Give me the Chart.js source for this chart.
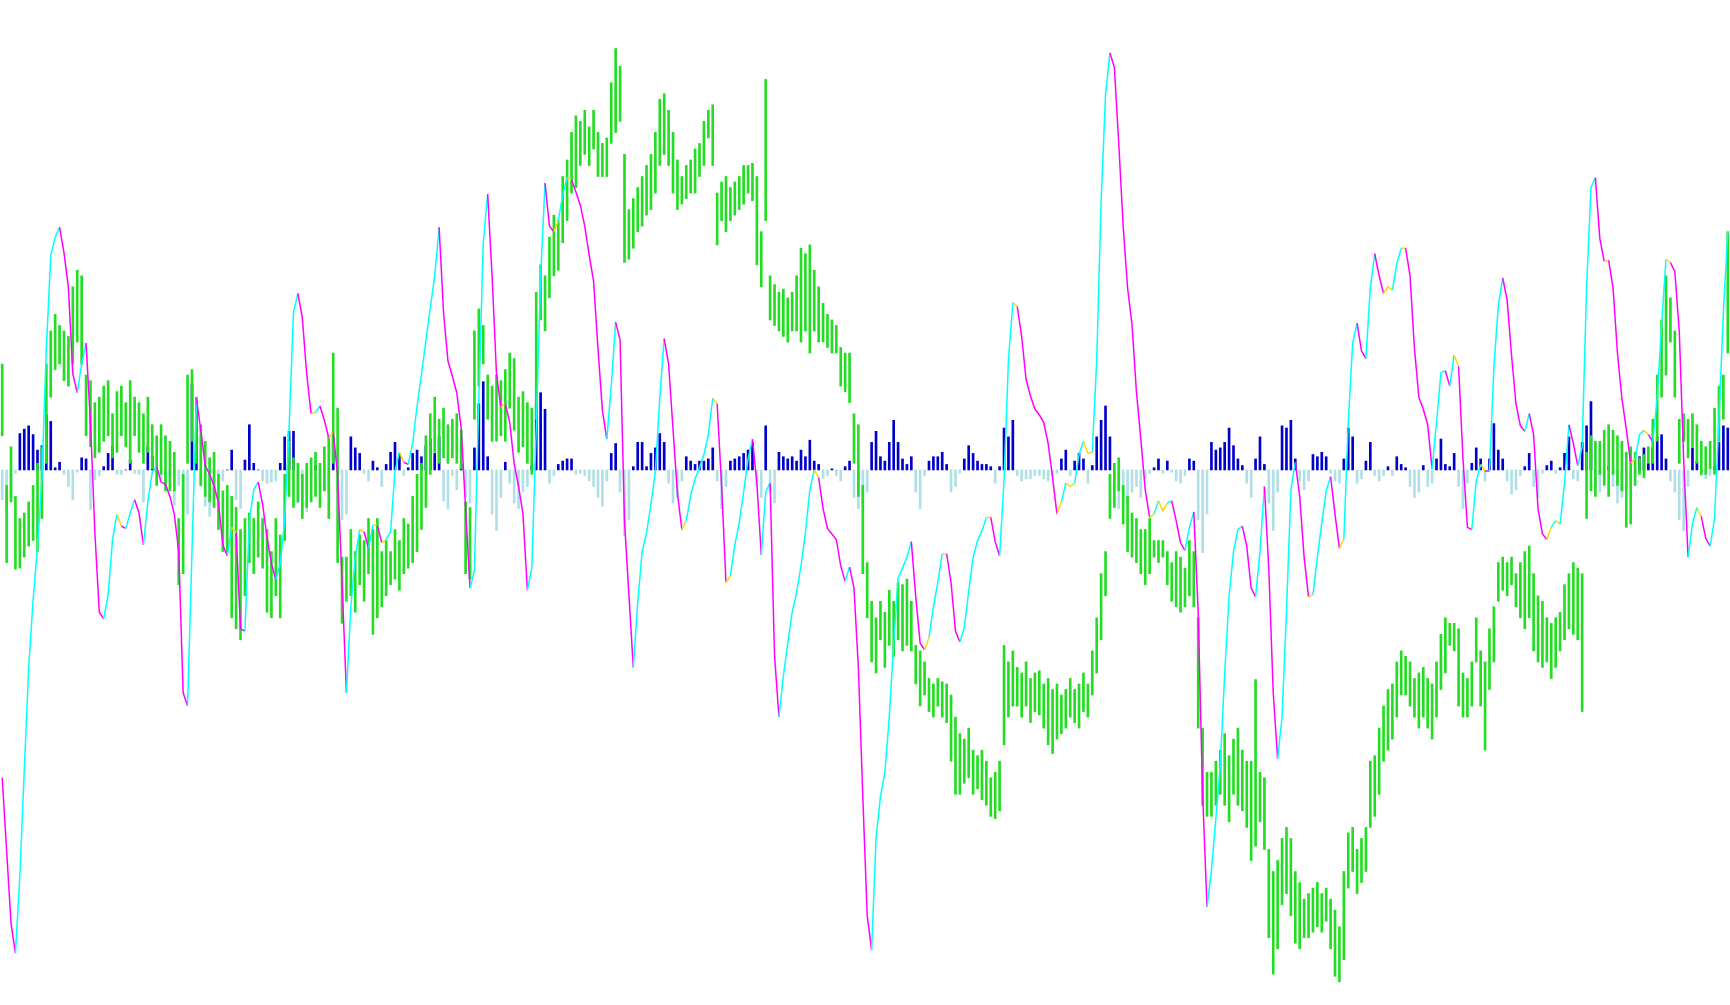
<!DOCTYPE html>
<html>
<head>
<meta charset="utf-8">
<script src="https://cdn.jsdelivr.net/npm/chart.js@4.4.1/dist/chart.umd.min.js"></script>
<style>
html, body { margin: 0; padding: 0; background: #fff; }
#wrap { width: 1730px; height: 1005px; }
</style>
</head>
<body>
<div id="wrap"><canvas id="myChart" width="1730" height="1005"></canvas></div>
<script>
// oscillator, one value per bar
const osc = [
  -279,-345,-411,-438,-368,-272,-179,-118,-70,-7,
  110,194,211,220,197,165,87,70,96,115,
  43,-57,-129,-135,-113,-63,-40,-51,-53,-39,
  -27,-39,-68,-29,-2,3,-11,-13,-24,-40,
  -74,-202,-214,-74,65,36,4,-4,-14,-30,
  -68,-78,-52,-57,-144,-146,-46,-18,-11,-31,
  -61,-85,-99,-85,-46,37,143,160,138,87,
  51,52,58,45,29,34,-4,-102,-202,-124,
  -79,-54,-56,-71,-50,-50,-66,-63,-56,-1,
  16,7,5,24,58,87,117,147,176,220,
  143,99,85,70,38,-35,-107,-91,65,206,
  250,176,87,57,60,43,6,-15,-40,-109,
  -89,37,176,260,221,216,226,249,265,263,
  252,240,221,195,171,110,54,28,76,134,
  118,-46,-113,-179,-120,-74,-57,-31,-1,65,
  119,96,37,-21,-54,-46,-23,-8,2,14,
  32,65,60,-14,-102,-96,-68,-48,-20,10,
  28,-12,-77,-20,-12,-168,-224,-187,-157,-129,
  -111,-87,-57,-18,0,-7,-35,-53,-58,-63,
  -87,-101,-88,-107,-179,-296,-404,-435,-334,-296,
  -274,-224,-157,-98,-89,-79,-65,-115,-157,-163,
  -152,-124,-102,-76,-76,-102,-146,-156,-143,-110,
  -79,-64,-55,-43,-43,-65,-78,-10,99,152,
  148,121,82,67,55,50,43,24,-7,-40,
  -29,-12,-15,-12,14,26,15,16,99,243,
  340,378,365,296,221,165,132,71,28,-18,
  -43,-40,-28,-37,-30,-28,-46,-66,-73,-52,
  -38,-129,-294,-396,-363,-316,-268,-185,-114,-74,
  -54,-51,-69,-107,-115,-74,-15,-90,-202,-262,
  -224,-129,-18,7,-24,-79,-115,-113,-79,-48,
  -19,-6,-40,-71,-63,43,115,133,108,101,
  165,196,176,160,166,163,187,201,201,176,
  110,66,55,41,1,43,88,90,76,104,
  94,10,-52,-54,-10,5,-1,-1,93,149,
  174,154,104,60,40,35,51,32,-35,-58,
  -63,-52,-46,-49,-12,41,24,4,21,165,
  256,265,210,189,190,165,106,65,37,6,
  10,32,36,32,26,65,132,191,188,180,
  126,10,-79,-49,-34,-42,-62,-69,-44,46,
  143,216
]

// histogram around the zero line
const hist = [
  -27,-35,-25,-3,33,37,40,32,18,22,
  50,44,2,7,-4,-15,-27,-2,11,10,
  -36,-9,-5,3,15,21,-4,-4,0,9,
  -3,-4,-29,21,12,-3,-10,-12,-7,-32,
  -14,-33,-40,78,62,-15,-33,-42,-27,-15,
  -10,0,18,-27,-35,9,41,6,0,-10,
  -12,-11,-10,6,30,35,35,-30,-35,-38,
  -5,4,-10,-18,-20,30,-20,-45,-40,30,
  20,15,-3,-10,8,2,-15,5,16,25,
  15,-5,2,15,18,12,22,28,15,30,
  -28,-35,-5,-18,5,-25,-30,20,60,80,
  12,-40,-55,-25,7,-12,-30,-35,-20,-15,
  4,60,70,55,-12,-5,5,8,10,10,
  -4,-3,-5,-10,-15,-25,-33,-10,15,24,
  -20,-60,-45,3,25,25,3,15,20,33,
  25,-12,-30,-25,-10,12,8,5,8,8,
  10,20,-10,-35,-15,8,10,12,15,18,
  25,-15,-25,40,-20,-30,16,12,10,12,
  8,18,12,27,8,5,-8,-5,1,-5,
  -10,3,8,-25,-35,-30,-20,25,35,12,
  8,25,45,25,10,5,12,-20,-35,-5,
  8,12,12,16,5,-20,-15,-3,10,22,
  15,8,5,5,3,-12,3,38,30,45,
  -5,-10,-8,-8,-5,-5,-8,-10,-5,-3,
  10,18,-5,8,15,10,-12,4,30,45,
  58,30,-10,-35,-25,-30,-20,-15,-25,-8,
  -3,2,10,-3,8,-2,-10,-12,-5,10,
  8,-45,-75,-40,25,18,20,25,38,22,
  10,4,-12,-25,10,30,5,-30,-55,-20,
  40,38,45,10,-10,-18,-10,14,12,16,
  12,-3,-10,-12,10,38,30,-12,-8,8,
  25,-5,-10,-5,3,-5,12,5,2,-15,
  -25,-20,4,-15,-12,10,28,5,3,15,
  -15,-35,-12,6,20,10,-10,10,42,18,
  10,-10,-22,-18,-5,3,15,-15,-25,-3,
  4,8,-3,2,15,30,-8,-10,25,40,
  62,-15,-20,-10,3,-15,-30,-25,-15,-8,
  -5,12,20,6,20,30,32,10,-10,-20,
  -45,-55,-15,20,8,-5,-8,-5,3,25,
  40,38
]

// price bars: high and low
const high = [
  670,560,595,550,530,535,545,560,580,595,
  670,700,715,705,700,695,740,755,750,660,
  655,635,640,650,655,625,645,650,635,655,
  640,635,625,640,615,605,615,605,600,590,
  530,570,660,665,640,615,600,585,590,570,
  555,560,550,540,520,530,535,530,545,530,
  520,500,530,515,570,600,585,580,570,580,
  585,590,580,595,605,680,630,495,495,520,
  500,515,510,530,520,530,500,510,500,520,
  510,530,525,550,570,580,605,625,640,620,
  630,615,620,625,610,545,540,700,720,705,
  660,650,660,655,665,680,675,640,645,635,
  630,735,760,750,785,805,800,840,855,880,
  895,890,900,885,900,880,870,875,925,956,
  940,860,810,820,830,840,850,860,880,910,
  915,900,880,855,840,850,855,865,870,890,
  900,905,825,835,840,830,835,840,850,850,
  852,840,790,928,750,742,735,738,730,735,
  750,775,770,778,755,740,725,715,710,705,
  685,680,680,625,615,560,490,455,440,455,
  445,465,455,472,470,475,455,415,410,400,
  385,380,385,382,380,370,350,335,330,340,
  320,315,320,310,295,300,310,415,400,410,
  395,390,400,385,390,392,380,385,375,380,
  370,375,385,375,380,390,380,410,440,480,
  500,570,580,585,560,550,535,530,520,520,
  530,510,510,510,500,490,500,495,485,510,
  500,440,340,300,300,310,320,335,315,330,
  340,320,310,310,384,300,295,230,210,220,
  240,250,240,210,200,185,190,195,200,190,
  195,185,175,160,210,245,250,230,240,250,
  310,315,340,360,375,380,400,410,405,400,
  385,390,395,385,380,400,425,440,435,435,
  430,390,385,400,440,410,400,430,450,490,
  495,490,495,480,490,500,505,480,460,455,
  440,435,440,445,470,480,490,485,480,590,
  605,600,600,610,615,610,605,600,590,595,
  590,585,588,595,620,660,710,750,730,700,
  620,625,620,625,615,600,595,600,630,650,
  660,790
]
const low = [
  605,490,545,484,485,495,505,510,500,530,
  580,640,665,670,655,650,670,690,670,605,
  595,585,590,600,605,585,590,605,595,580,
  605,590,580,590,575,560,570,555,555,555,
  470,480,580,600,580,560,550,545,540,520,
  500,500,440,430,420,460,490,480,495,485,
  445,440,460,440,510,550,540,545,530,540,
  545,550,540,555,530,580,490,435,455,460,
  445,470,455,480,425,440,450,460,470,475,
  465,480,485,490,500,520,540,570,590,580,
  585,580,585,580,575,480,475,620,650,670,
  620,600,600,605,600,630,610,590,595,580,
  570,620,710,700,730,750,755,780,800,825,
  830,850,860,850,865,840,840,840,870,880,
  890,762,765,775,790,795,805,810,825,850,
  860,850,825,810,815,820,825,825,840,850,
  875,850,778,800,790,800,805,810,815,825,
  818,760,740,800,710,705,700,695,690,700,
  700,690,700,680,700,690,690,685,680,680,
  650,645,635,580,550,480,440,400,390,420,
  395,415,405,420,410,415,410,380,360,370,
  355,350,360,350,345,310,280,280,290,295,
  280,285,275,270,260,258,265,325,350,360,
  360,350,360,345,355,352,340,325,317,330,
  335,340,350,345,340,355,350,370,390,420,
  460,530,540,555,525,500,495,490,480,470,
  480,495,490,495,470,455,450,445,450,460,
  450,340,270,260,260,270,280,270,255,280,
  270,265,250,220,233,255,230,150,117,140,
  180,190,170,145,140,150,150,155,160,155,
  165,140,115,110,130,195,210,190,200,210,
  250,260,280,310,320,330,350,370,370,360,
  350,340,350,340,330,350,375,390,415,410,
  360,350,350,360,400,360,320,375,400,455,
  465,460,470,450,440,430,440,410,400,395,
  400,385,395,410,420,430,425,420,355,530,
  555,550,570,560,550,570,560,555,522,525,
  560,570,567,580,580,600,640,660,690,640,
  580,600,585,595,580,570,570,575,570,600,
  620,680
]

const labels = osc.map((v, i) => i)
const priceBars = low.map((l, i) => [l, high[i]])

const upColor = '#00ffff'
const downColor = '#ff00ff'
const turnColor = '#ffd700'

// colour of the line depends on its direction, yellow on a small step where it turns
function lineColor(c) {
    const i = c.p0DataIndex
    const d = osc[i + 1] - osc[i]
    const prev = i > 0 ? osc[i] - osc[i - 1] : d
    if ((d > 0) !== (prev > 0) && Math.abs(d) < 12) return turnColor
    return d > 0 ? upColor : downColor
}

const chart = document.getElementById('myChart')
const ctx = chart.getContext('2d')
new Chart(ctx, {
    type: 'bar',
    data: {
        labels: labels,
        datasets: [{
            type: 'line',
            label: 'osc',
            data: osc,
            yAxisID: 'y',
            borderColor: upColor,
            borderWidth: 1.5,
            pointRadius: 0,
            tension: 0,
            segment: { borderColor: lineColor },
            order: 0
        }, {
            label: 'price',
            data: priceBars,
            yAxisID: 'p',
            backgroundColor: '#22dd22',
            borderWidth: 0,
            barThickness: 2,
            grouped: false,
            order: 1
        }, {
            label: 'hist',
            data: hist,
            yAxisID: 'y',
            backgroundColor: c => (c.raw >= 0 ? '#0000cd' : '#b0e0e6'),
            borderWidth: 0,
            barThickness: 2,
            grouped: false,
            order: 2
        }]
    },
    options: {
        responsive: false,
        animation: false,
        layout: { padding: 0 },
        plugins: {
            legend: { display: false },
            tooltip: { enabled: false }
        },
        scales: {
            x: { display: false, offset: true },
            y: { display: false, min: -485, max: 426 },
            p: { display: false, min: 89, max: 1000 }
        }
    }
})
</script>
</body>
</html>
